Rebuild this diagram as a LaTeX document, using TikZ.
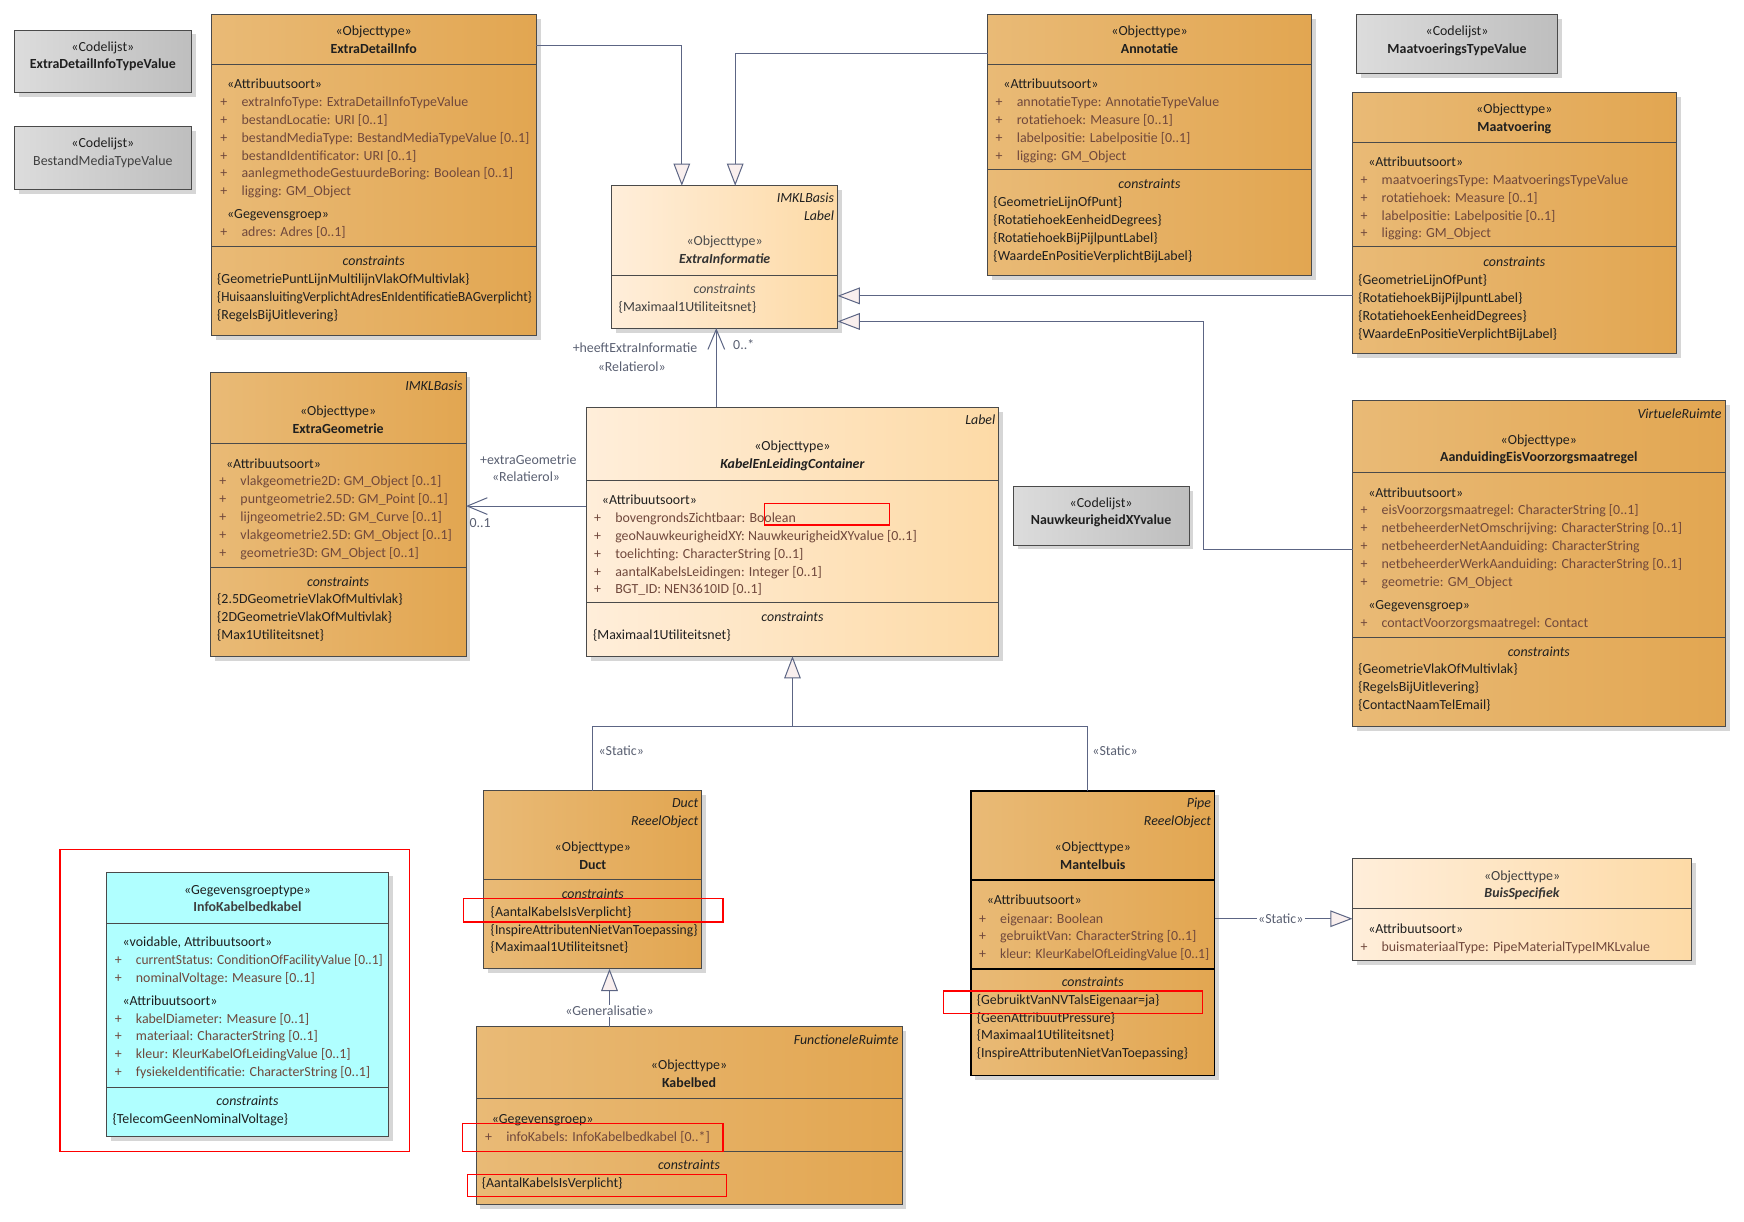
\documentclass[tikz,border=0pt]{standalone}
\usepackage{fontspec}
\usepackage{graphicx}
\setmainfont{Carlito}
\usetikzlibrary{arrows.meta,calc}
\definecolor{orL}{HTML}{E9BA76}
\definecolor{orR}{HTML}{E2A651}
\definecolor{ltL}{HTML}{FFEEDA}
\definecolor{ltR}{HTML}{FDDAA6}
\definecolor{grL}{HTML}{DCDCDC}
\definecolor{grR}{HTML}{BEBEBE}
\definecolor{cyanbox}{HTML}{B0FFFF}
\definecolor{boxline}{HTML}{4A4A4A}
\definecolor{shadowc}{HTML}{D6D6D6}
\definecolor{attrc}{HTML}{70483C}
\definecolor{connc}{HTML}{5C6584}
\definecolor{labc}{HTML}{5A6072}
\definecolor{trifill}{HTML}{F9EFEE}
\newcommand\fs{\fontsize{12.5}{15}\selectfont}
\newcounter{tn}
\newcommand\T[4][]{\stepcounter{tn}\node[#1] (t\arabic{tn}) at (#2,#3+2.5) {#4};}
\newcommand\attr[3]{\T[lt,text=attrc]{#1-19}{#2}{+}\T[lt,text=attrc]{#1}{#2}{#3}}
\newcommand\sq[2]{\resizebox{#1pt}{\height}{#2}}
% name, x1,y1,x2,y2, fill style
\newcommand\umlbox[6]{%
  \fill[shadowc] (#2+4,#3+4) rectangle (#4+4,#5+4);
  \path[#6] (#2,#3) rectangle (#4,#5);
  \node[draw=boxline,line width=0.9pt,inner sep=0pt,outer sep=0pt,minimum width=#4pt-#2pt,minimum height=#5pt-#3pt,anchor=north west] (#1) at (#2,#3) {};
}
\newcommand\hdiv[3]{\draw[boxline,line width=0.9pt] (#1,#3) -- (#2,#3);}
\tikzset{
  every node/.style={font=\fs,inner sep=0pt},
  orangebox/.style={left color=orL,right color=orR},
  lightbox/.style={left color=ltL,right color=ltR},
  graybox/.style={left color=grL,right color=grR},
  cyanfill/.style={fill=cyanbox},
  lt/.style={anchor=mid west,text=black!88},
  ct/.style={anchor=mid,text=black!88},
  tag/.style={anchor=mid east,font=\fs\itshape,text=black!88},
  cons/.style={anchor=mid,font=\fs\itshape,text=black!88},
  conn/.style={draw=connc,line width=0.9pt},
  gen/.style={conn,-{Triangle[length=20pt,width=15pt,fill=trifill]}},
  assoc/.style={conn,-{Straight Barb[length=18pt,width=15pt]}},
  lab/.style={text=labc,font=\fs},
  redbox/.style={draw=red,line width=1.1pt},
}
\begin{document}
\begin{tikzpicture}[x=1pt,y=-1pt]
\useasboundingbox[fill=white] (0,0) rectangle (1568,1098);

% ---- Codelijst boxes
\umlbox{edtv}{13}{27}{172}{83}{graybox}
\T[ct]{92.5}{41}{«Codelijst»}
\T[ct]{92.5}{57}{\textbf{ExtraDetailInfoTypeValue}}
\umlbox{bmtv}{13}{114}{172}{170}{graybox}
\T[ct]{92.5}{128}{«Codelijst»}
\T[ct,text=black!75]{92.5}{144}{BestandMediaTypeValue}
\umlbox{mtv}{1220}{13}{1400}{66}{graybox}
\T[ct]{1310}{27}{«Codelijst»}
\T[ct]{1310}{43}{\textbf{MaatvoeringsTypeValue}}
\umlbox{nxy}{911}{437}{1069}{490}{graybox}
\T[ct]{990}{451}{«Codelijst»}
\T[ct]{990}{467}{\textbf{NauwkeurigheidXYvalue}}

% ---- ExtraDetailInfo
\umlbox{edi}{190}{13}{482}{302}{orangebox}
\hdiv{190}{482}{58}\hdiv{190}{482}{222}
\T[ct]{336}{27}{«Objecttype»}
\T[ct]{336}{43}{\textbf{ExtraDetailInfo}}
\T[lt]{204}{75}{«Attribuutsoort»}
\attr{217}{91}{extraInfoType: ExtraDetailInfoTypeValue}
\attr{217}{107}{bestandLocatie: URI [0..1]}
\attr{217}{123}{bestandMediaType: BestandMediaTypeValue [0..1]}
\attr{217}{139}{bestandIdentificator: URI [0..1]}
\attr{217}{155}{aanlegmethodeGestuurdeBoring: Boolean [0..1]}
\attr{217}{171}{ligging: GM\_Object}
\T[lt]{204}{192}{«Gegevensgroep»}
\attr{217}{208}{adres: Adres [0..1]}
\T[cons]{336}{234}{constraints}
\T[lt]{195}{250}{\{GeometriePuntLijnMultilijnVlakOfMultivlak\}}
\T[lt]{195}{266}{\sq{283}{\{HuisaansluitingVerplichtAdresEnIdentificatieBAGverplicht\}}}
\T[lt]{195}{282}{\{RegelsBijUitlevering\}}

% ---- ExtraInformatie
\umlbox{ei}{550}{167}{753}{295}{lightbox}
\hdiv{550}{753}{248}
\T[tag]{750}{177}{IMKLBasis}
\T[tag]{750}{193}{Label}
\T[ct,text=black!70]{651.5}{216}{«Objecttype»}
\T[ct,text=black!80]{651.5}{232}{\textbf{\textit{ExtraInformatie}}}
\T[cons,text=black!70]{651.5}{259}{constraints}
\T[lt,text=black!75]{556}{275}{\{Maximaal1Utiliteitsnet\}}

% ---- Annotatie
\umlbox{ann}{888}{13}{1179}{248}{orangebox}
\hdiv{888}{1179}{58}\hdiv{888}{1179}{152}
\T[ct]{1033.5}{27}{«Objecttype»}
\T[ct]{1033.5}{43}{\textbf{Annotatie}}
\T[lt]{902}{75}{«Attribuutsoort»}
\attr{914}{91}{annotatieType: AnnotatieTypeValue}
\attr{914}{107}{rotatiehoek: Measure [0..1]}
\attr{914}{123}{labelpositie: Labelpositie [0..1]}
\attr{914}{139}{ligging: GM\_Object}
\T[cons]{1033.5}{165}{constraints}
\T[lt]{893}{181}{\{GeometrieLijnOfPunt\}}
\T[lt]{893}{197}{\{RotatiehoekEenheidDegrees\}}
\T[lt]{893}{213}{\{RotatiehoekBijPijlpuntLabel\}}
\T[lt]{893}{229}{\{WaardeEnPositieVerplichtBijLabel\}}

% ---- Maatvoering
\umlbox{maat}{1216}{83}{1507}{318}{orangebox}
\hdiv{1216}{1507}{128}\hdiv{1216}{1507}{222}
\T[ct]{1361.5}{97}{«Objecttype»}
\T[ct]{1361.5}{113}{\textbf{Maatvoering}}
\T[lt]{1230}{145}{«Attribuutsoort»}
\attr{1242}{161}{maatvoeringsType: MaatvoeringsTypeValue}
\attr{1242}{177}{rotatiehoek: Measure [0..1]}
\attr{1242}{193}{labelpositie: Labelpositie [0..1]}
\attr{1242}{209}{ligging: GM\_Object}
\T[cons]{1361.5}{235}{constraints}
\T[lt]{1221}{251}{\{GeometrieLijnOfPunt\}}
\T[lt]{1221}{267}{\{RotatiehoekBijPijlpuntLabel\}}
\T[lt]{1221}{283}{\{RotatiehoekEenheidDegrees\}}
\T[lt]{1221}{299}{\{WaardeEnPositieVerplichtBijLabel\}}

% ---- ExtraGeometrie
\umlbox{eg}{189}{335}{419}{590}{orangebox}
\hdiv{189}{419}{399}\hdiv{189}{419}{510}
\T[tag]{416}{346}{IMKLBasis}
\T[ct]{304}{369}{«Objecttype»}
\T[ct]{304}{385}{\textbf{ExtraGeometrie}}
\T[lt]{203}{416}{«Attribuutsoort»}
\attr{216}{432}{vlakgeometrie2D: GM\_Object [0..1]}
\attr{216}{448}{puntgeometrie2.5D: GM\_Point [0..1]}
\attr{216}{464}{lijngeometrie2.5D: GM\_Curve [0..1]}
\attr{216}{480}{vlakgeometrie2.5D: GM\_Object [0..1]}
\attr{216}{496}{geometrie3D: GM\_Object [0..1]}
\T[cons]{304}{522}{constraints}
\T[lt]{195}{538}{\{2.5DGeometrieVlakOfMultivlak\}}
\T[lt]{195}{554}{\{2DGeometrieVlakOfMultivlak\}}
\T[lt]{195}{570}{\{Max1Utiliteitsnet\}}

% ---- KabelEnLeidingContainer
\umlbox{kelc}{527}{366}{898}{590}{lightbox}
\hdiv{527}{898}{432}\hdiv{527}{898}{542}
\T[tag]{895}{377}{Label}
\T[ct]{712.5}{400}{«Objecttype»}
\T[ct]{712.5}{416}{\textbf{\textit{KabelEnLeidingContainer}}}
\T[lt]{541}{449}{«Attribuutsoort»}
\attr{553}{465}{bovengrondsZichtbaar: Boolean}
\attr{553}{481}{geoNauwkeurigheidXY: NauwkeurigheidXYvalue [0..1]}
\attr{553}{497}{toelichting: CharacterString [0..1]}
\attr{553}{513}{aantalKabelsLeidingen: Integer [0..1]}
\attr{553}{529}{BGT\_ID: NEN3610ID [0..1]}
\T[cons]{712.5}{554}{constraints}
\T[lt]{533}{570}{\{Maximaal1Utiliteitsnet\}}

% ---- AanduidingEisVoorzorgsmaatregel
\umlbox{aand}{1216}{360}{1551}{653}{orangebox}
\hdiv{1216}{1551}{425}\hdiv{1216}{1551}{573}
\T[tag]{1548}{371}{VirtueleRuimte}
\T[ct]{1383.5}{395}{«Objecttype»}
\T[ct]{1383.5}{410}{\textbf{AanduidingEisVoorzorgsmaatregel}}
\T[lt]{1230}{442}{«Attribuutsoort»}
\attr{1242}{458}{eisVoorzorgsmaatregel: CharacterString [0..1]}
\attr{1242}{474}{netbeheerderNetOmschrijving: CharacterString [0..1]}
\attr{1242}{490}{netbeheerderNetAanduiding: CharacterString}
\attr{1242}{506}{netbeheerderWerkAanduiding: CharacterString [0..1]}
\attr{1242}{522}{geometrie: GM\_Object}
\T[lt]{1230}{543}{«Gegevensgroep»}
\attr{1242}{559}{contactVoorzorgsmaatregel: Contact}
\T[cons]{1383.5}{585}{constraints}
\T[lt]{1221}{601}{\{GeometrieVlakOfMultivlak\}}
\T[lt]{1221}{617}{\{RegelsBijUitlevering\}}
\T[lt]{1221}{633}{\{ContactNaamTelEmail\}}

% ---- Duct
\umlbox{duct}{435}{711}{631}{871}{orangebox}
\hdiv{435}{631}{791}
\T[tag]{628}{721}{Duct}
\T[tag]{628}{737}{ReeelObject}
\T[ct]{533}{761}{«Objecttype»}
\T[ct]{533}{777}{\textbf{Duct}}
\T[cons]{533}{803}{constraints}
\T[lt]{441}{819}{\{AantalKabelsIsVerplicht\}}
\T[lt]{441}{835}{\sq{186}{\{InspireAttributenNietVanToepassing\}}}
\T[lt]{441}{851}{\{Maximaal1Utiliteitsnet\}}

% ---- Mantelbuis
\fill[shadowc] (877,715) rectangle (1096,971);
\path[orangebox] (873,711) rectangle (1092,967);
\node[draw=black,line width=1.4pt,inner sep=0pt,outer sep=0pt,minimum width=219pt,minimum height=256pt,anchor=north west] (mant) at (873,711) {};
\draw[black,line width=1.4pt] (873,791) -- (1092,791) (873,871) -- (1092,871);
\T[tag]{1089}{721}{Pipe}
\T[tag]{1089}{737}{ReeelObject}
\T[ct]{982.5}{761}{«Objecttype»}
\T[ct]{982.5}{777}{\textbf{Mantelbuis}}
\T[lt]{887}{808}{«Attribuutsoort»}
\attr{899}{825}{eigenaar: Boolean}
\attr{899}{841}{gebruiktVan: CharacterString [0..1]}
\attr{899}{857}{\sq{188}{kleur: KleurKabelOfLeidingValue [0..1]}}
\T[cons]{982.5}{882}{constraints}
\T[lt]{878}{898}{\{GebruiktVanNVTalsEigenaar=ja\}}
\T[lt]{878}{914}{\{GeenAttribuutPressure\}}
\T[lt]{878}{930}{\{Maximaal1Utiliteitsnet\}}
\T[lt]{878}{946}{\{InspireAttributenNietVanToepassing\}}

% ---- BuisSpecifiek
\umlbox{bs}{1216}{772}{1521}{864}{lightbox}
\hdiv{1216}{1521}{817}
\T[ct,text=black!75]{1368.5}{787}{«Objecttype»}
\T[ct,text=black!80]{1368.5}{802}{\textbf{\textit{BuisSpecifiek}}}
\T[lt]{1230}{834}{«Attribuutsoort»}
\attr{1242}{851}{buismateriaalType: PipeMaterialTypeIMKLvalue}

% ---- Kabelbed
\umlbox{kb}{428}{923}{811}{1083}{orangebox}
\hdiv{428}{811}{988}\hdiv{428}{811}{1035}
\T[tag]{808}{934}{FunctioneleRuimte}
\T[ct]{619.5}{957}{«Objecttype»}
\T[ct]{619.5}{973}{\textbf{Kabelbed}}
\T[lt]{442}{1005}{«Gegevensgroep»}
\attr{455}{1021}{infoKabels: InfoKabelbedkabel [0..*]}
\T[cons]{619.5}{1047}{constraints}
\T[lt]{433}{1063}{\{AantalKabelsIsVerplicht\}}

% ---- InfoKabelbedkabel
\umlbox{ikk}{96}{784}{349}{1022}{cyanfill}
\hdiv{96}{349}{830}\hdiv{96}{349}{978}
\T[ct]{222.5}{799}{«Gegevensgroeptype»}
\T[ct,text=black!75]{222.5}{815}{\textbf{InfoKabelbedkabel}}
\T[lt]{110}{846}{«voidable, Attribuutsoort»}
\attr{122}{862}{\sq{222}{currentStatus: ConditionOfFacilityValue [0..1]}}
\attr{122}{878}{nominalVoltage: Measure [0..1]}
\T[lt]{110}{899}{«Attribuutsoort»}
\attr{122}{915}{kabelDiameter: Measure [0..1]}
\attr{122}{931}{materiaal: CharacterString [0..1]}
\attr{122}{947}{kleur: KleurKabelOfLeidingValue [0..1]}
\attr{122}{963}{fysiekeIdentificatie: CharacterString [0..1]}
\T[cons]{222.5}{989}{constraints}
\T[lt]{101}{1005}{\{TelecomGeenNominalVoltage\}}

% ---- connectors
\draw[gen] ([yshift=-28pt]edi.north east) -| ([xshift=63pt]ei.north west);
\draw[gen] ([yshift=-35pt]ann.north west) -| ([xshift=111pt]ei.north west);
\draw[gen] ([yshift=-183pt]maat.north west) -- ([yshift=-99pt]ei.north east);
\coordinate (bA) at (1082,494);
\coordinate (bB) at (1082,289);
\draw[gen] ([yshift=-134pt]aand.north west) -- (bA) -- (bB) -- ([yshift=-122pt]ei.north east);
\draw[assoc] ([xshift=117pt]kelc.north west) -- ([xshift=94pt]ei.south west);
\draw[assoc] ([yshift=-89pt]kelc.north west) -- ([yshift=-120pt]eg.north east);
\coordinate (jn) at (712.5,653);
\draw[gen] ([xshift=98pt]duct.north west) |- (jn) -- (kelc.south);
\draw[conn] ([xshift=105pt]mant.north west) |- (jn);
\draw[gen] ([xshift=120pt]kb.north west) -- node[pos=0.27,lab,fill=white,inner ysep=1pt] (lgen) {«Generalisatie»} ([xshift=113pt]duct.south west);
\draw[gen] ([yshift=-115pt]mant.north east) -- node[pos=0.48,lab,fill=white,inner xsep=1pt] (lst3) {«Static»} ([yshift=-54pt]bs.north west);

% ---- connector labels
\node[lab,anchor=mid west] (lst1) at (538,676.5) {«Static»};
\node[lab,anchor=mid west] (lst2) at (982,676.5) {«Static»};
\node[lab] (lr1) at (475,413.5) {+extraGeometrie};
\node[lab] (lr2) at (473,428.5) {«Relatierol»};
\node[lab,anchor=mid west] (lm1) at (422,471.5) {0..1};
\node[lab,anchor=mid east] (lh1) at (627,314.5) {+heeftExtraInformatie};
\node[lab] (lh2) at (568,329.5) {«Relatierol»};
\node[lab,anchor=mid west] (lm2) at (659,311.5) {0..*};

% ---- red highlight boxes
\draw[redbox] (687,453) rectangle (800,472);
\draw[redbox] (417,808) rectangle (650,829);
\draw[redbox] (848,891) rectangle (1081,911);
\draw[redbox] (416,1010) rectangle (650,1035);
\draw[redbox] (420,1056) rectangle (653,1076);
\draw[redbox] (54,764) rectangle (368,1035);
\end{tikzpicture}
\end{document}
